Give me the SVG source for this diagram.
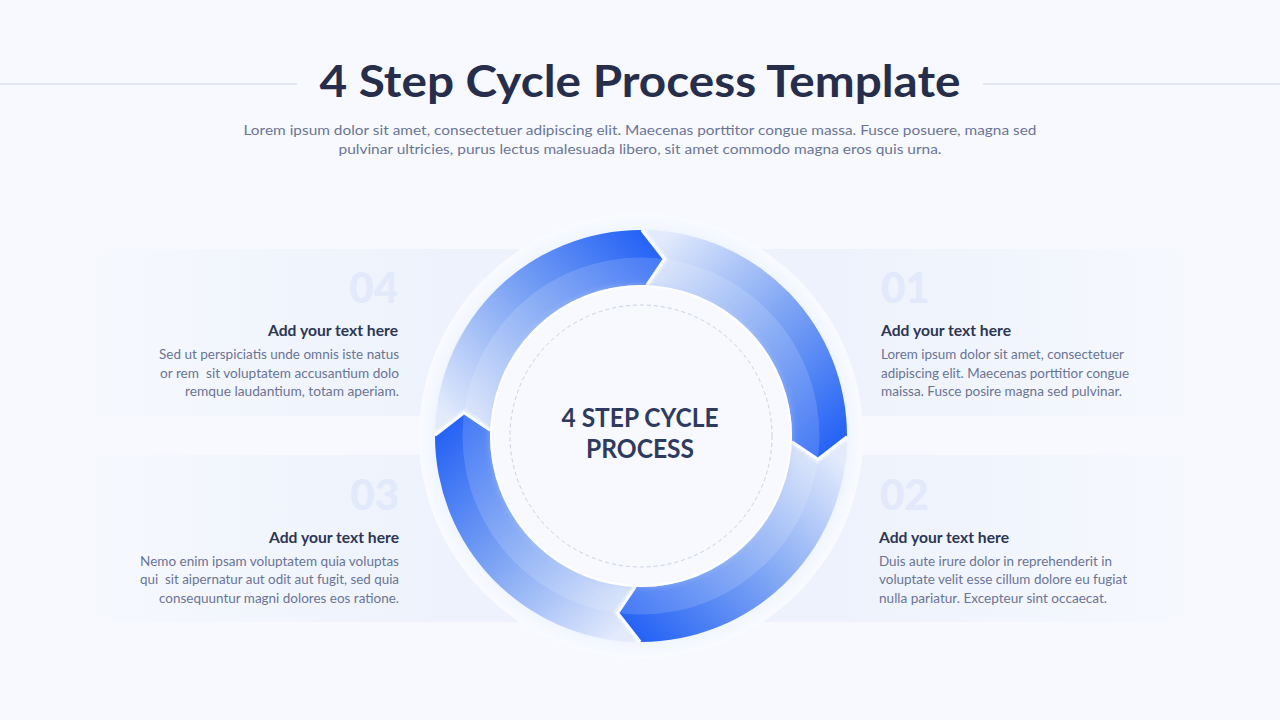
<svg xmlns="http://www.w3.org/2000/svg" xmlns:xlink="http://www.w3.org/1999/xlink" width="1280" height="720" viewBox="0 0 1280 720">
<style>
.title{font-family:Lato,"Noto Sans",sans-serif;font-weight:700;font-size:44px;fill:#262e4b}
.sub{font-family:Lato,"Noto Sans",sans-serif;font-size:14px;fill:#6b7594}
.num{font-family:Lato,"Noto Sans",sans-serif;font-weight:900;font-size:42px;fill:#e2e9fa}
.head{font-family:Lato,"Noto Sans",sans-serif;font-weight:700;font-size:15.5px;fill:#2d3654}
.body{font-family:Lato,"Noto Sans",sans-serif;font-size:13.5px;fill:#6a7494}
.center{font-family:Lato,"Noto Sans",sans-serif;font-weight:700;font-size:26px;fill:#2f3b5e}
.rule{stroke:#cdd4e8;stroke-width:1}
.edge{fill:none;stroke:#ffffff;stroke-width:3;stroke-linejoin:round;stroke-opacity:0.95}
.shade{fill:#ffffff;fill-opacity:0.14}
</style>
<defs>
<linearGradient id="panelL" x1="60" y1="0" x2="440" y2="0" gradientUnits="userSpaceOnUse">
<stop offset="0" stop-color="#edf2fc" stop-opacity="0"/>
<stop offset="1" stop-color="#edf2fc" stop-opacity="1"/>
</linearGradient>
<linearGradient id="panelR" x1="840" y1="0" x2="1222" y2="0" gradientUnits="userSpaceOnUse">
<stop offset="0" stop-color="#edf2fc" stop-opacity="1"/>
<stop offset="1" stop-color="#edf2fc" stop-opacity="0"/>
</linearGradient>
<radialGradient id="ringBg" cx="641" cy="436" r="222" gradientUnits="userSpaceOnUse">
<stop offset="0.6" stop-color="#dde7fb"/>
<stop offset="0.9" stop-color="#e8effc"/>
<stop offset="0.94" stop-color="#f2f6fe"/>
<stop offset="1" stop-color="#f9fbff"/>
</radialGradient>
<linearGradient id="arrowGrad" x1="655" y1="245" x2="462" y2="432" gradientUnits="userSpaceOnUse">
<stop offset="0" stop-color="#2462f5"/>
<stop offset="0.5" stop-color="#7ea5f4"/>
<stop offset="1" stop-color="#e2eafc"/>
</linearGradient>
<clipPath id="innerHalf"><circle cx="641" cy="436" r="178.5"/></clipPath>
<filter id="glow" x="-20%" y="-20%" width="140%" height="140%">
<feDropShadow dx="0" dy="0" stdDeviation="3" flood-color="#b9cdf7" flood-opacity="0.5"/>
</filter>
<path id="arrowShape" d="M435.09 429.89 A206 206 0 0 1 641.72 230 L664.3 259.03 L646.8 285.11 A151 151 0 0 0 490.31 426.26 L464.7 408.08 Z"/>
<polyline id="headEdge" points="641.72,230 664.3,259.03 646.8,285.11"/>
</defs>

<rect x="0" y="0" width="1280" height="720" fill="#f7f9fe"/>

<g id="header">
<line class="rule" x1="0" y1="84" x2="297" y2="84"/>
<line class="rule" x1="983" y1="84" x2="1280" y2="84"/>
<text class="title" x="640" y="97" text-anchor="middle" textLength="641" lengthAdjust="spacingAndGlyphs">4 Step Cycle Process Template</text>
<text class="sub" x="640" y="135" text-anchor="middle" textLength="793" lengthAdjust="spacingAndGlyphs">Lorem ipsum dolor sit amet, consectetuer adipiscing elit. Maecenas porttitor congue massa. Fusce posuere, magna sed</text>
<text class="sub" x="640" y="154" text-anchor="middle" textLength="603" lengthAdjust="spacingAndGlyphs">pulvinar ultricies, purus lectus malesuada libero, sit amet commodo magna eros quis urna.</text>
</g>

<g id="panels">
<rect x="60" y="249" width="480" height="167" rx="26" fill="url(#panelL)"/>
<rect x="60" y="455" width="480" height="167" rx="26" fill="url(#panelL)"/>
<rect x="740" y="249" width="482" height="167" rx="26" fill="url(#panelR)"/>
<rect x="740" y="455" width="482" height="167" rx="26" fill="url(#panelR)"/>
</g>

<g id="cycle-base">
<circle cx="641" cy="436" r="222" fill="url(#ringBg)"/>
</g>

<g id="connectors">
<g id="arrow-4">
<use xlink:href="#arrowShape" fill="url(#arrowGrad)"/>
<use xlink:href="#arrowShape" class="shade" clip-path="url(#innerHalf)"/>
<use xlink:href="#headEdge" class="edge"/>
</g>
<g id="arrow-1" transform="rotate(90 641 436)">
<use xlink:href="#arrowShape" fill="url(#arrowGrad)"/>
<use xlink:href="#arrowShape" class="shade" clip-path="url(#innerHalf)"/>
<use xlink:href="#headEdge" class="edge"/>
</g>
<g id="arrow-2" transform="rotate(180 641 436)">
<use xlink:href="#arrowShape" fill="url(#arrowGrad)"/>
<use xlink:href="#arrowShape" class="shade" clip-path="url(#innerHalf)"/>
<use xlink:href="#headEdge" class="edge"/>
</g>
<g id="arrow-3" transform="rotate(270 641 436)">
<use xlink:href="#arrowShape" fill="url(#arrowGrad)"/>
<use xlink:href="#arrowShape" class="shade" clip-path="url(#innerHalf)"/>
<use xlink:href="#headEdge" class="edge"/>
</g>
</g>

<g id="center">
<circle cx="641" cy="436" r="150" fill="#f7f9fe" stroke="#ffffff" stroke-width="2" filter="url(#glow)"/>
<circle cx="641" cy="436" r="131" fill="none" stroke="#c9d1e3" stroke-width="1" stroke-dasharray="4 3"/>
<text class="center" x="640" y="427" text-anchor="middle" textLength="157" lengthAdjust="spacingAndGlyphs">4 STEP CYCLE</text>
<text class="center" x="640" y="458" text-anchor="middle" textLength="108" lengthAdjust="spacingAndGlyphs">PROCESS</text>
</g>

<g id="step-01">
<text class="num" x="881" y="303">01</text>
<text class="head" x="881" y="336" textLength="130" lengthAdjust="spacingAndGlyphs">Add your text here</text>
<text class="body" x="881" y="359" textLength="243" lengthAdjust="spacingAndGlyphs">Lorem ipsum dolor sit amet, consectetuer</text>
<text class="body" x="881" y="378" textLength="248" lengthAdjust="spacingAndGlyphs">adipiscing elit. Maecenas porttitior congue</text>
<text class="body" x="881" y="396" textLength="241" lengthAdjust="spacingAndGlyphs">maissa. Fusce posire magna sed pulvinar.</text>
</g>

<g id="step-02">
<text class="num" x="880" y="510">02</text>
<text class="head" x="879" y="543" textLength="130" lengthAdjust="spacingAndGlyphs">Add your text here</text>
<text class="body" x="879" y="566" textLength="233" lengthAdjust="spacingAndGlyphs">Duis aute irure dolor in reprehenderit in</text>
<text class="body" x="879" y="584" textLength="248" lengthAdjust="spacingAndGlyphs">voluptate velit esse cillum dolore eu fugiat</text>
<text class="body" x="879" y="603" textLength="228" lengthAdjust="spacingAndGlyphs">nulla pariatur. Excepteur sint occaecat.</text>
</g>

<g id="step-03">
<text class="num" x="399" y="510" text-anchor="end">03</text>
<text class="head" x="399" y="543" text-anchor="end" textLength="130" lengthAdjust="spacingAndGlyphs">Add your text here</text>
<text class="body" x="399" y="566" text-anchor="end" textLength="259" lengthAdjust="spacingAndGlyphs">Nemo enim ipsam voluptatem quia voluptas</text>
<text class="body" x="399" y="584" text-anchor="end" textLength="259" lengthAdjust="spacingAndGlyphs" xml:space="preserve">qui  sit aipernatur aut odit aut fugit, sed quia</text>
<text class="body" x="399" y="603" text-anchor="end" textLength="240" lengthAdjust="spacingAndGlyphs">consequuntur magni dolores eos ratione.</text>
</g>

<g id="step-04">
<text class="num" x="398" y="303" text-anchor="end">04</text>
<text class="head" x="398" y="336" text-anchor="end" textLength="130" lengthAdjust="spacingAndGlyphs">Add your text here</text>
<text class="body" x="399" y="359" text-anchor="end" textLength="240" lengthAdjust="spacingAndGlyphs">Sed ut perspiciatis unde omnis iste natus</text>
<text class="body" x="399" y="378" text-anchor="end" textLength="239" lengthAdjust="spacingAndGlyphs" xml:space="preserve">or rem  sit voluptatem accusantium dolo</text>
<text class="body" x="399" y="396" text-anchor="end" textLength="214" lengthAdjust="spacingAndGlyphs">remque laudantium, totam aperiam.</text>
</g>
</svg>
